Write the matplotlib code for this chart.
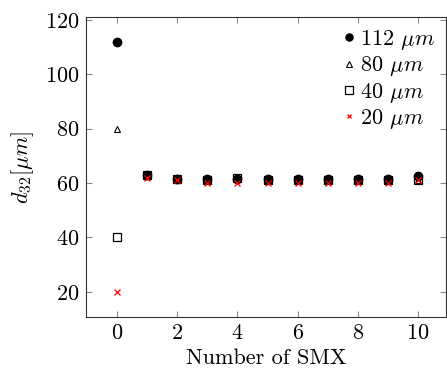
import matplotlib
matplotlib.use("Agg")
import matplotlib.pyplot as plt

x = [0, 1, 2, 3, 4, 5, 6, 7, 8, 9, 10]
d112 = [112, 63, 61.5, 61.5, 61.5, 61.5, 61.5, 61.5, 61.5, 61.5, 62.5]
d80 = [80, 62.5, 61, 61, 62, 61, 61, 61, 61, 61, 61]
d40 = [40, 63, 61.5, 61, 62, 61, 61, 61, 61, 61, 61]
d20 = [20, 62, 61, 60, 60, 60, 60, 60, 60, 60, 61]
labels = [r"112 $\mu m$", r"80 $\mu m$", r"40 $\mu m$", r"20 $\mu m$"]
xticks = [0, 2, 4, 6, 8, 10]
yticks = [20, 40, 60, 80, 100, 120]

plt.rcParams['font.family'] = 'serif'
plt.rcParams['font.serif'] = ['cmr10']
plt.rcParams['mathtext.fontset'] = 'cm'
plt.rcParams['axes.formatter.use_mathtext'] = True

fig = plt.figure(figsize=(4.47, 3.72), dpi=100)
ax = fig.add_axes([0.1924, 0.148, 0.8054, 0.806])

ax.plot(x, d112, 'o', color='black', markersize=6, label=labels[0], linestyle='none')
ax.plot(x, d80, '^', markerfacecolor='none', markeredgecolor='black', markersize=5, markeredgewidth=0.8, label=labels[1], linestyle='none')
ax.plot(x, d40, 's', markerfacecolor='none', markeredgecolor='black', markersize=6, markeredgewidth=0.9, label=labels[2], linestyle='none')
ax.plot(x, d20, 'x', color='red', markersize=4, markeredgewidth=0.9, label=labels[3], linestyle='none')

ax.set_xlim(-1.03, 10.93)
ax.set_ylim(10.8, 121)
ax.set_xticks(xticks)
ax.set_yticks(yticks)
ax.tick_params(direction='in', top=True, right=True, length=4, color='#888888', labelsize=16, pad=5)
for s in ax.spines.values():
    s.set_color('#333333')
    s.set_linewidth(0.8)
ax.set_xlabel("Number of SMX", fontsize=16, labelpad=4)
ax.set_ylabel(r"$d_{32}[\mu m]$", fontsize=16, labelpad=6)
leg = ax.legend(loc='upper right', frameon=False, fontsize=16, handletextpad=0.0,
                handlelength=1.0, labelspacing=0.1, borderaxespad=0.1,
                markerscale=0.85)
fig.savefig("out.png", dpi=100)
